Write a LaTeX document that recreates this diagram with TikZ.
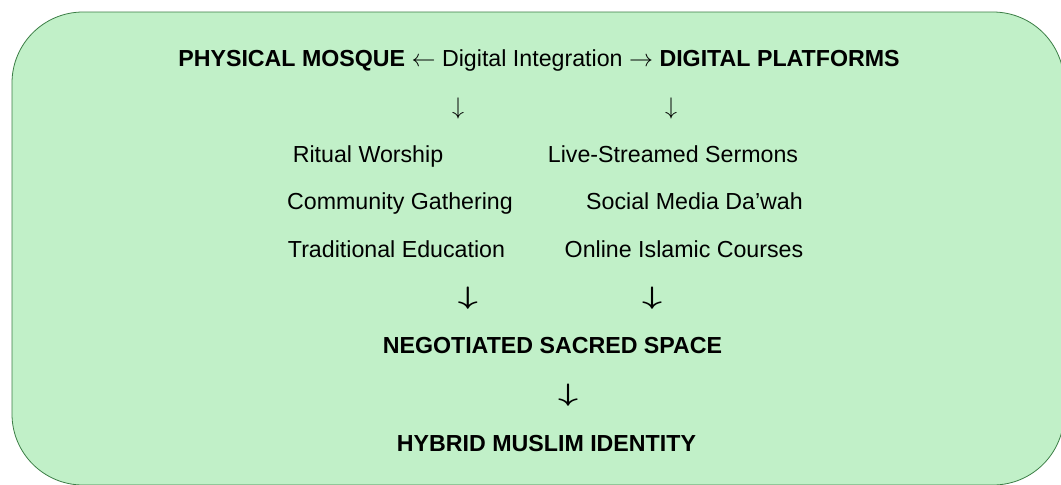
\documentclass[tikz,border=0pt]{standalone}
\usepackage{fontspec}
\setmainfont{Liberation Sans}
\usetikzlibrary{positioning}
\definecolor{panelfill}{HTML}{C1F0C8}
\definecolor{paneledge}{HTML}{3B7D45}
\newcommand{\wdown}{\scalebox{1.45}[1.05]{\boldmath$\downarrow$}}

\begin{document}
\begin{tikzpicture}[x=0.5pt,y=-0.5pt,
  every node/.style={inner sep=0pt,font=\fontsize{11.6}{14}\selectfont},
  item/.style={anchor=base},
  title/.style={anchor=base,font=\fontsize{11.6}{14}\selectfont\bfseries}]
\useasboundingbox (0,0) rectangle (1061,484);
\draw[paneledge,fill=panelfill,rounded corners=35.5pt] (12,12) rectangle (1064,485);
% top line
\node[item] (top) at (539,66) {\textbf{PHYSICAL MOSQUE} $\leftarrow$ Digital Integration $\rightarrow$ \textbf{DIGITAL PLATFORMS}};
\node (dl) at (458,108) {$\downarrow$};
\node (dr) at (671,108) {$\downarrow$};
% the two columns
\node[item] (ritual) at (368,162) {Ritual Worship};
\node[item] (community) at (400,209) {Community Gathering};
\node[item] (education) at (396.5,257) {Traditional Education};
\node[item] (sermons) at (673,162) {Live-Streamed Sermons};
\node[item] (dawah) at (694.5,209) {Social Media Da’wah};
\node[item] (courses) at (684,257) {Online Islamic Courses};
\node (ml) at (468,298) {\wdown};
\node (mr) at (652,298) {\wdown};
% outcome
\node[title] (space) at (552.5,353) {NEGOTIATED SACRED SPACE};
\node (last) at (568,395) {\wdown};
\node[title] (identity) at (546.5,451) {HYBRID MUSLIM IDENTITY};
\end{tikzpicture}
\end{document}
